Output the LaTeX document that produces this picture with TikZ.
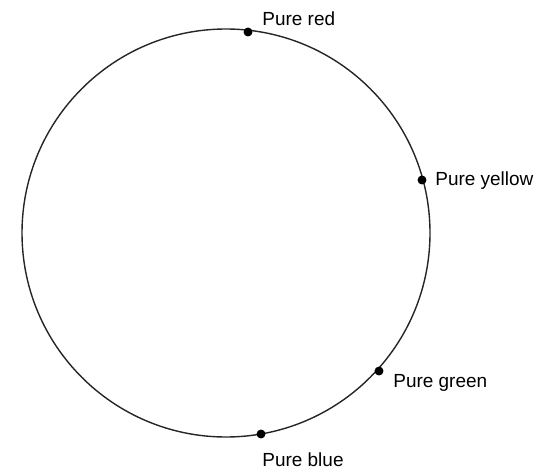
\documentclass[tikz,border=0pt]{standalone}
\usepackage{fontspec}
\setmainfont{Liberation Sans}
\begin{document}
\begin{tikzpicture}[x=0.02cm,y=-0.02cm,
    dot/.style={circle,fill=black,inner sep=0pt,minimum size=9pt*0.567},
    lbl/.style={inner sep=0pt,anchor=base west,font=\fontsize{10.8}{13}\selectfont}]
    \useasboundingbox (0,0) rectangle (536,469);
    \draw[line width=0.8pt,black!85] (226,233) circle[radius=204*0.02cm];
    \node[dot] (red) at (248,32) {};
    \node[dot] (yellow) at (422,180) {};
    \node[dot] (green) at (379,371) {};
    \node[dot] (blue) at (261,434) {};
    \node[lbl] (redlbl) at (262,25.5) {Pure red};
    \node[lbl] (yellowlbl) at (435,185.5) {Pure yellow};
    \node[lbl] (greenlbl) at (393,387) {Pure green};
    \node[lbl] (bluelbl) at (262,466) {Pure blue};
\end{tikzpicture}
\end{document}
